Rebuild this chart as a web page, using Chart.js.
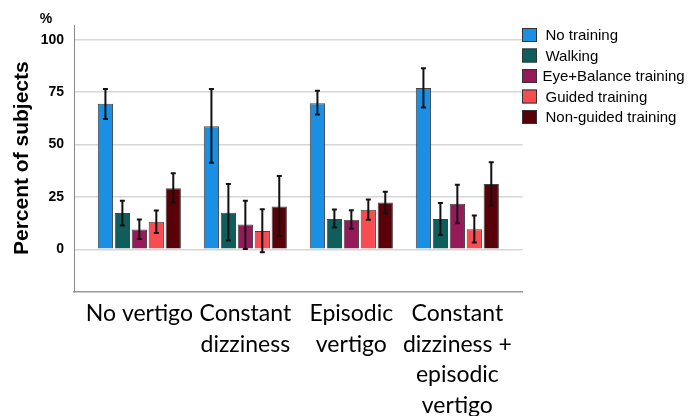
<!DOCTYPE html>
<html>
<head>
<meta charset="utf-8">
<title>Percent of subjects</title>
<script src="https://cdn.jsdelivr.net/npm/chart.js@4/dist/chart.umd.min.js"></script>
<style>
    body { margin: 0; background: #fff; }
    #wrap { width: 688px; height: 416px; }
</style>
</head>
<body>
<div id="wrap"><canvas id="trainingChart" width="688" height="416"></canvas></div>
<script>
// Categories (x axis)
let categories = [
    ["No vertigo"],
    ["Constant", "dizziness"],
    ["Episodic", "vertigo"],
    ["Constant", "dizziness +", "episodic", "vertigo"]
];

// Series names
let seriesNames = ["No training", "Walking", "Eye+Balance training", "Guided training", "Non-guided training"];
let seriesColors = ["#1a8fe3", "#0f5e5c", "#961a5a", "#f74c52", "#5a0008"];

// Bar values (percent)
let noTraining = [69.4, 58.7, 69.7, 77.0];
let walking = [17.4, 17.5, 14.5, 14.5];
let eyeBalance = [9.5, 11.8, 14.1, 21.8];
let guided = [13.2, 8.8, 18.9, 9.6];
let nonGuided = [29.2, 20.5, 22.3, 31.2];

// Error bars (lower / upper)
let noTrainingLow = [62.2, 41.3, 64.3, 67.7];
let noTrainingHigh = [76.5, 76.5, 75.6, 86.4];
let walkingLow = [11.4, 4.2, 10.4, 6.8];
let walkingHigh = [23.2, 31.2, 19.0, 22.1];
let eyeBalanceLow = [5.0, 0.2, 9.8, 12.5];
let eyeBalanceHigh = [14.2, 23.2, 18.6, 30.8];
let guidedLow = [7.8, -1.4, 14.1, 3.3];
let guidedHigh = [18.5, 19.1, 23.8, 16.1];
let nonGuidedLow = [22.3, 6.3, 17.1, 20.9];
let nonGuidedHigh = [36.3, 35.0, 27.5, 41.5];

// Y axis
let yTicks = [0, 25, 50, 75, 100];
let yMin = -20;
let yMax = 107;

let seriesValues = [noTraining, walking, eyeBalance, guided, nonGuided];
let seriesLow = [noTrainingLow, walkingLow, eyeBalanceLow, guidedLow, nonGuidedLow];
let seriesHigh = [noTrainingHigh, walkingHigh, eyeBalanceHigh, guidedHigh, nonGuidedHigh];

let datasets = seriesNames.map((name, i) => ({
    label: name,
    data: seriesValues[i],
    low: seriesLow[i],
    high: seriesHigh[i],
    backgroundColor: seriesColors[i],
    borderColor: "rgba(35,35,35,0.85)",
    borderWidth: 1
}));

// Error bars on top of the bars
let errorBars = {
    id: "errorBars",
    afterDatasetsDraw(chart) {
        let ctx = chart.ctx;
        let y = chart.scales.y;
        ctx.save();
        ctx.strokeStyle = "#111";
        ctx.lineWidth = 2;
        chart.data.datasets.forEach((ds, i) => {
            chart.getDatasetMeta(i).data.forEach((bar, j) => {
                let top = y.getPixelForValue(ds.high[j]);
                let bottom = y.getPixelForValue(ds.low[j]);
                ctx.beginPath();
                ctx.moveTo(bar.x, top);
                ctx.lineTo(bar.x, bottom);
                ctx.moveTo(bar.x - 2.5, top);
                ctx.lineTo(bar.x + 2.5, top);
                ctx.moveTo(bar.x - 2.5, bottom);
                ctx.lineTo(bar.x + 2.5, bottom);
                ctx.stroke();
            });
        });
        ctx.restore();
    }
};

// Legend at the right + "%" unit label
let sideText = {
    id: "sideText",
    afterDraw(chart) {
        let ctx = chart.ctx;
        ctx.save();
        ctx.fillStyle = "#000";
        ctx.font = "bold 14px 'Liberation Sans', Arial, sans-serif";
        ctx.textAlign = "center";
        ctx.textBaseline = "middle";
        ctx.fillText("%", 46, 19);

        ctx.font = "15px 'Liberation Sans', Arial, sans-serif";
        ctx.textAlign = "left";
        chart.data.datasets.forEach((ds, i) => {
            let cy = 35 + i * 20.5;
            ctx.fillStyle = ds.backgroundColor;
            ctx.fillRect(522, cy - 7, 15, 14);
            ctx.strokeStyle = "#333";
            ctx.lineWidth = 1;
            ctx.strokeRect(522.5, cy - 6.5, 14, 13);
            ctx.fillStyle = "#000";
            ctx.fillText(ds.label, i == 2 ? 542.5 : 545.5, cy + 1);
        });
        ctx.restore();
    }
};

new Chart(document.getElementById("trainingChart"), {
    type: "bar",
    data: { labels: categories, datasets: datasets },
    options: {
        responsive: false,
        animation: false,
        layout: { padding: { top: 25, right: 165.3, left: 0, bottom: 0 } },
        plugins: {
            legend: { display: false },
            tooltip: { enabled: false }
        },
        scales: {
            x: {
                grid: { display: false, drawTicks: false },
                border: { display: true, color: "#9a9a9a", width: 1.5 },
                ticks: {
                    color: "#000",
                    padding: 7,
                    maxRotation: 0,
                    autoSkip: false,
                    font: { family: "Lato, 'Open Sans', sans-serif", size: 23, lineHeight: 1.33 }
                },
                // a little extra room at both ends of the category axis
                afterBuildTicks: s => { s._startValue -= 0.1165; s._valueRange += 0.233; },
                afterFit: s => { s.height = 124.7; }
            },
            y: {
                min: yMin,
                max: yMax,
                afterBuildTicks: s => { s.ticks = yTicks.map(v => ({ value: v })); },
                afterFit: s => { s.width = 74; },
                grid: { color: "#d6d6d6", lineWidth: 1.5, drawTicks: false },
                border: { display: true, color: "#8a8a8a", width: 1 },
                ticks: {
                    color: "#000",
                    padding: 10,
                    font: { family: "'Liberation Sans', Arial, sans-serif", size: 14, weight: "bold" }
                },
                title: {
                    display: true,
                    text: "Percent of subjects",
                    color: "#000",
                    padding: { top: 10, bottom: 0 },
                    font: { family: "'Liberation Sans', Arial, sans-serif", size: 21, weight: "bold" }
                }
            }
        }
    },
    plugins: [errorBars, sideText]
});
</script>
</body>
</html>
